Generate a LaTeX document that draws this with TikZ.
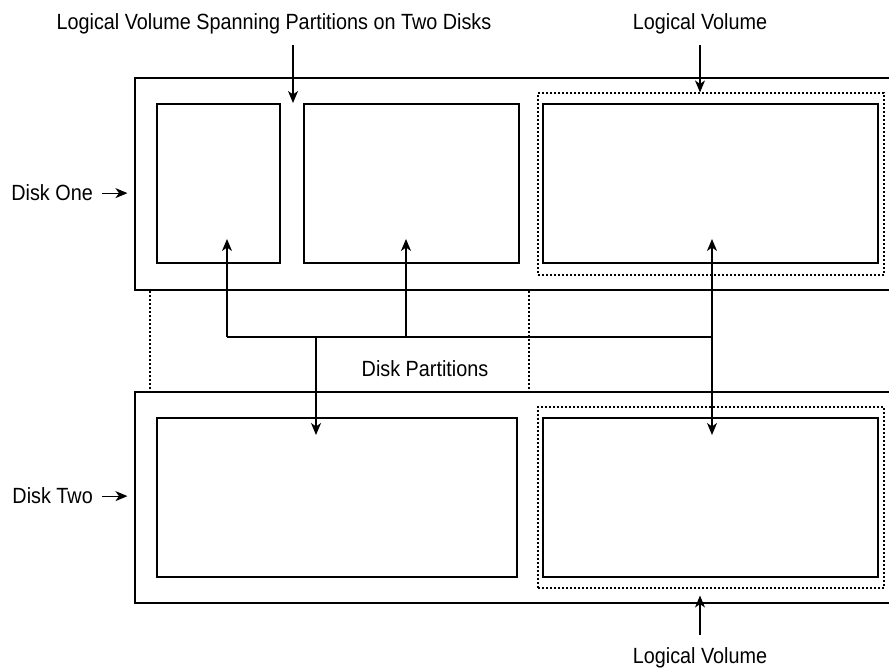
\documentclass[tikz,border=0pt]{standalone}
\usepackage{fontspec}
\setmainfont{Liberation Sans}[FakeStretch=0.9]
\usepackage{tikz}
\usetikzlibrary{arrows.meta,positioning,calc}

\begin{document}
\begin{tikzpicture}[
  x=1pt, y=1pt,
  disk/.style={rectangle, draw, line width=1.1pt, minimum width=757pt, minimum height=212pt, inner sep=0pt},
  part/.style={rectangle, draw, line width=2pt, minimum height=159pt, inner sep=0pt},
  volume/.style={rectangle, draw, line width=1.1pt, dash pattern=on 2pt off 2pt, minimum width=346pt, minimum height=182pt, inner sep=0pt},
  guide/.style={line width=1.1pt, dash pattern=on 2pt off 2pt},
  link/.style={line width=1.2pt},
  edge/.style={-{Stealth[length=12pt, width=10pt, inset=3.5pt]}, line width=1.2pt},
  lbl/.style={font=\fontsize{22}{26}\selectfont, inner sep=0pt}
]
\useasboundingbox (0,0) rectangle (889,668);

% disks
\node[disk] (diskone) at (513.5,484) {};
\node[disk, minimum height=211pt] (disktwo) at (513.5,170.5) {};

% partitions on disk one
\node[part, line width=1.1pt, minimum width=123pt] (pa) at (218.5,484.5) {};
\node[part, minimum width=215pt, right=22pt of pa] (pb) {};
\node[part, minimum width=335pt] (pc) at (710.5,484.5) {};
\node[volume] (lvone) at (711,484) {};

% partitions on disk two
\node[part, minimum width=360pt] (pd) at (337,170.5) {};
\node[part, minimum width=335pt] (pe) at (710.5,170.5) {};
\node[volume, minimum height=181pt] (lvtwo) at (711,170.5) {};

% guides between the disks
\draw[guide] (diskone.south -| 150,0) -- (disktwo.north -| 150,0);
\draw[guide] (diskone.south -| 529,0) -- (disktwo.north -| 529,0);

% labels
\node[lbl, anchor=base] (spanlbl) at (274,638) {Logical Volume Spanning Partitions on Two Disks};
\node[lbl, anchor=base] (toplv) at (700,638) {Logical Volume};
\node[lbl, anchor=base] (botlv) at (700,4) {Logical Volume};
\node[lbl, anchor=base east] (onelbl) at (93,467) {Disk One};
\node[lbl, anchor=base east] (twolbl) at (93,164) {Disk Two};
\node[lbl, anchor=base] (partlbl) at (425,291) {Disk Partitions};

\coordinate (spanin) at (293,565);
\draw[edge, shorten <=10pt] (spanlbl.south -| spanin) -- (spanin);
\draw[edge, shorten <=10pt] (toplv.south) -- (toplv.south |- lvone.north);
\draw[edge, shorten <=13pt, shorten >=7pt] (botlv.north) -- (botlv.north |- lvtwo.south);
\draw[edge, shorten <=9pt, shorten >=7pt] (onelbl.east) -- (onelbl.east -| diskone.west);
\draw[edge, shorten <=9pt, shorten >=7pt] (twolbl.east) -- (twolbl.east -| disktwo.west);

% disk partitions
\coordinate (hub) at (316,331);
\coordinate (ta) at (227,429);
\coordinate (tb) at (406,429);
\coordinate (tc) at (712,429);
\coordinate (td) at (316,233);
\coordinate (te) at (712,233);
\draw[link] (ta |- hub) -- (tc |- hub);
\draw[edge] (ta |- hub) -- (ta);
\draw[edge] (tb |- hub) -- (tb);
\draw[edge] (hub) -- (td);
\draw[edge, {Stealth[length=12pt, width=10pt, inset=3.5pt]}-{Stealth[length=12pt, width=10pt, inset=3.5pt]}] (tc) -- (te);
\end{tikzpicture}
\end{document}
